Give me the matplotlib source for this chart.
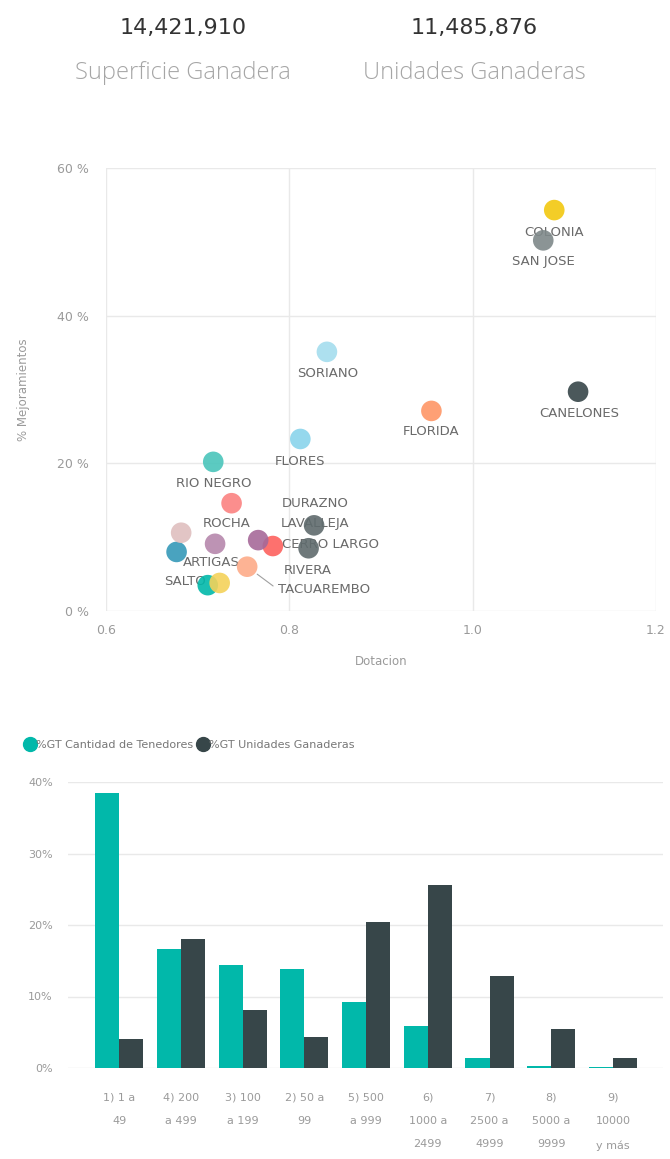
import numpy as np
import matplotlib
matplotlib.use("Agg")
import matplotlib.pyplot as plt
from matplotlib.lines import Line2D

# ---- KPI cards ----
kpi_values = ["14,421,910", "11,485,876"]
kpi_titles = ["Superficie Ganadera", "Unidades Ganaderas"]

# ---- scatter: dotacion vs % mejoramientos por departamento ----
departamentos = ["ARTIGAS", "CANELONES", "CERRO LARGO", "COLONIA", "DURAZNO",
                 "FLORES", "FLORIDA", "LAVALLEJA", "MALDONADO", "PAYSANDU",
                 "RIO NEGRO", "RIVERA", "ROCHA", "SALTO", "SAN JOSE",
                 "SORIANO", "TACUAREMBO", "TREINTA Y TRES"]
dotacion = [0.711, 1.115, 0.782, 1.089, 0.827,
            0.812, 0.955, 0.766, 0.677, 0.682,
            0.717, 0.821, 0.737, 0.724, 1.077,
            0.841, 0.754, 0.719]
mejoramientos = [3.5, 29.7, 8.8, 54.3, 11.6,
                 23.3, 27.1, 9.6, 8.0, 10.6,
                 20.2, 8.5, 14.6, 3.8, 50.2,
                 35.1, 6.0, 9.1]
etiquetados = ["ARTIGAS", "CANELONES", "CERRO LARGO", "COLONIA", "DURAZNO",
               "FLORES", "FLORIDA", "LAVALLEJA", "RIO NEGRO", "RIVERA",
               "ROCHA", "SALTO", "SAN JOSE", "SORIANO", "TACUAREMBO"]

# ---- bars: distribucion por tramo de tamano ----
tramos = ["1) 1 a\n49", "4) 200\na 499", "3) 100\na 199", "2) 50 a\n99",
          "5) 500\na 999", "6)\n1000 a\n2499", "7)\n2500 a\n4999",
          "8)\n5000 a\n9999", "9)\n10000\ny más"]
pct_tenedores = [38.4, 16.6, 14.4, 13.9, 9.3, 5.9, 1.35, 0.25, 0.1]
pct_unidades = [4.0, 18.0, 8.1, 4.4, 20.4, 25.6, 12.9, 5.4, 1.45]
series_names = ["%GT Cantidad de Tenedores", "%GT Unidades Ganaderas"]

# styling
palette = {"ARTIGAS": "#01B8AA", "CANELONES": "#374649", "CERRO LARGO": "#FD625E",
           "COLONIA": "#F2C80F", "DURAZNO": "#5F6B6D", "FLORES": "#8AD4EB",
           "FLORIDA": "#FE9666", "LAVALLEJA": "#A66999", "MALDONADO": "#3599B8",
           "PAYSANDU": "#DFBFBF", "RIO NEGRO": "#4AC5BB", "RIVERA": "#5F6B6D",
           "ROCHA": "#FB8281", "SALTO": "#F4D25A", "SAN JOSE": "#7F898A",
           "SORIANO": "#A4DDEE", "TACUAREMBO": "#FDAB89", "TREINTA Y TRES": "#B687AC"}
# label offsets in pixels (dx, dy downward) from the marker centre
label_offsets = {"COLONIA": (0, 22), "SAN JOSE": (0, 21), "CANELONES": (1, 22),
                 "FLORIDA": (0, 21), "SORIANO": (1, 22), "FLORES": (0, 23),
                 "RIO NEGRO": (1, 22), "ROCHA": (-5, 20), "DURAZNO": (1, -22),
                 "LAVALLEJA": (57, -17), "CERRO LARGO": (58, -2), "RIVERA": (-1, 22),
                 "TACUAREMBO": (77, 23), "ARTIGAS": (4, -23), "SALTO": (-35, -1)}
TEAL = "#01B8AA"
DARK = "#374649"
GRID = "#E9E9E9"
TICK = "#9A9A9A"

fig = plt.figure(figsize=(6.70, 11.59), dpi=100)
fig.patch.set_facecolor("white")

# =========================
# KPI cards
# =========================
for xc, val, title in zip([0.273, 0.708], kpi_values, kpi_titles):
    fig.text(xc, 1 - 28 / 1159, val, ha="center", va="center",
             fontsize=16, color="#333333", family="DejaVu Sans")
    fig.text(xc, 1 - 73 / 1159, title, ha="center", va="center",
             fontsize=17, color="#A6A6A6", family=["Open Sans", "DejaVu Sans"],
             fontweight="light")

# =========================
# scatter
# =========================
ax1 = fig.add_axes([106 / 670, 1 - 611 / 1159, 550 / 670, 443 / 1159])
ax1.set_xlim(0.6, 1.2)
ax1.set_ylim(0, 60)
ax1.set_xticks([0.6, 0.8, 1.0, 1.2])
ax1.set_xticklabels(["0.6", "0.8", "1.0", "1.2"])
ax1.set_yticks([0, 20, 40, 60])
ax1.set_yticklabels(["0 %", "20 %", "40 %", "60 %"])
ax1.grid(True, color=GRID, lw=1)
ax1.set_axisbelow(True)
for s in ax1.spines.values():
    s.set_visible(False)
ax1.tick_params(length=0, colors=TICK, labelsize=9)
ax1.tick_params(axis="y", pad=12)
ax1.tick_params(axis="x", pad=9)

for name, xv, yv in zip(departamentos, dotacion, mejoramientos):
    ax1.scatter(xv, yv, s=220, color=palette[name], alpha=0.9,
                edgecolors="none", zorder=3)
    if name in etiquetados:
        dx, dy = label_offsets[name]
        arrow = None
        if name == "TACUAREMBO":
            arrow = dict(arrowstyle="-", color="#A0A0A0", lw=0.8,
                         shrinkA=2, shrinkB=9, relpos=(0.0, 0.5))
        ax1.annotate(name, (xv, yv), xytext=(dx, -dy), textcoords="offset pixels",
                     ha="center", va="center", fontsize=9.5, color="#6A6A6A",
                     zorder=2, arrowprops=arrow)

ax1.set_xlabel("Dotacion", fontsize=8.5, color=TICK)
ax1.xaxis.set_label_coords(0.5, -44 / 443)
ax1.set_ylabel("% Mejoramientos", fontsize=8.5, color=TICK)
ax1.yaxis.set_label_coords(-76 / 550, 0.5)

# =========================
# clustered bars
# =========================
ax2 = fig.add_axes([68 / 670, 1 - 1068 / 1159, 595 / 670, 286 / 1159])
x = np.arange(len(tramos))
w = 0.39
ax2.bar(x - w / 2, pct_tenedores, w, color=TEAL, label=series_names[0], zorder=3)
ax2.bar(x + w / 2, pct_unidades, w, color=DARK, label=series_names[1], zorder=3)
ax2.set_xlim(-0.83, 8.81)
ax2.set_ylim(0, 40)
ax2.set_yticks([0, 10, 20, 30, 40])
ax2.set_yticklabels(["0%", "10%", "20%", "30%", "40%"])
ax2.set_xticks(x)
ax2.set_xticklabels(tramos, linespacing=2.65, va="top")
ax2.yaxis.grid(True, color=GRID, lw=1)
ax2.set_axisbelow(True)
for s in ax2.spines.values():
    s.set_visible(False)
ax2.tick_params(length=0, colors=TICK, labelsize=8)
ax2.tick_params(axis="y", pad=11)
ax2.tick_params(axis="x", pad=18)

handles = [Line2D([], [], marker="o", ls="", markersize=10, color=c) for c in (TEAL, DARK)]
leg = ax2.legend(handles, series_names, loc="center left",
                 bbox_to_anchor=(-48 / 595, 1 + (782 - 745) / 286),
                 ncol=2, frameon=False, fontsize=8, handletextpad=0.05,
                 columnspacing=0.4, handlelength=1.0, borderaxespad=0)
for t in leg.get_texts():
    t.set_color("#777777")

fig.savefig("out.png", dpi=100, facecolor="white")
